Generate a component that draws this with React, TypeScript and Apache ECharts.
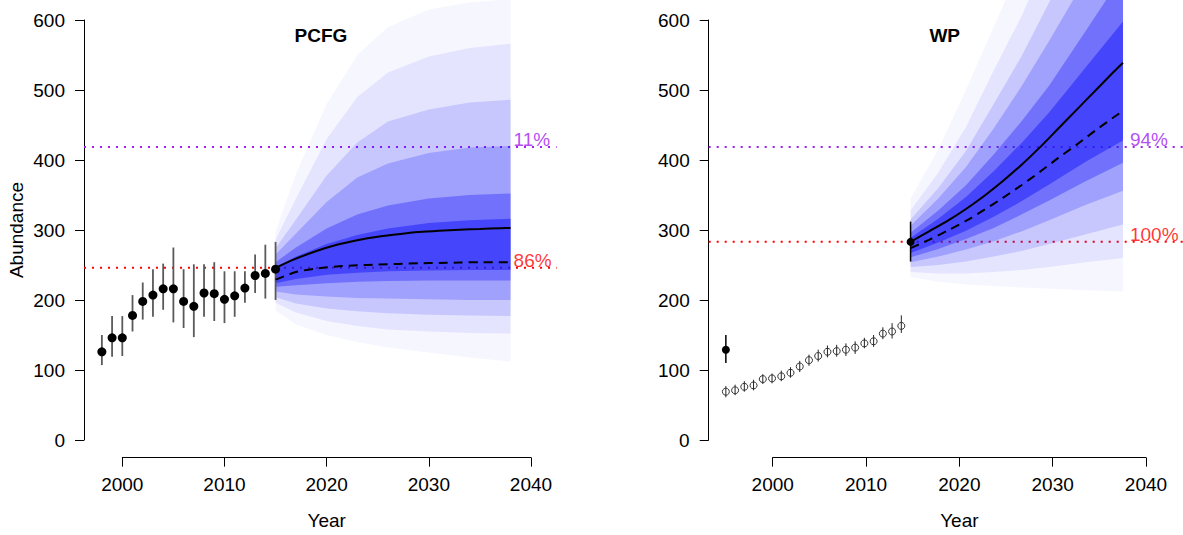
import React, { useEffect, useRef } from "react";
import * as echarts from "echarts";

// ---------------- DATA ----------------
// PCFG observed abundance (estimates with intervals)
const PCFG_YEARS = [1998, 1999, 2000, 2001, 2002, 2003, 2004, 2005, 2006, 2007, 2008, 2009, 2010, 2011, 2012, 2013, 2014, 2015];
const PCFG_ABUND = [126, 146, 146, 178, 198, 207, 216, 216, 198, 191, 210, 209, 201, 206, 217, 235, 238, 244];
const PCFG_LO = [107, 119, 120, 155, 172, 176, 186, 168, 160, 147, 176, 170, 167, 176, 196, 210, 202, 200];
const PCFG_HI = [150, 177, 177, 207, 225, 244, 252, 275, 244, 251, 251, 254, 241, 241, 241, 265, 279, 283];

// PCFG projection: mean / median trajectories
const PCFG_LINE_YEARS = [2015, 2017, 2019, 2021, 2023, 2025, 2027, 2029, 2031, 2033, 2035, 2037, 2038];
const PCFG_MEAN = [246, 259, 270, 279, 285.5, 290.5, 294, 297, 299, 300.5, 301.5, 302.5, 303];
const PCFG_MEDIAN = [229, 240, 245, 248, 249.5, 250.5, 251.5, 252.5, 253, 253.5, 254, 254, 254];
// PCFG projection: quantiles of the simulated trajectories
const PCFG_PROJ_YEARS = [2015, 2017, 2020, 2023, 2026, 2030, 2034, 2038];
const PCFG_Q005 = [185, 165, 150, 140, 132, 125, 118, 112];
const PCFG_Q02 = [196, 182, 170, 163, 158, 155, 153, 152];
const PCFG_Q05 = [204, 195, 188, 184, 181, 179, 178, 177];
const PCFG_Q10 = [212, 208, 205, 203, 202, 201, 200, 200];
const PCFG_Q20 = [219, 221, 224, 226, 227, 228, 228, 228];
const PCFG_Q30 = [224, 230, 236, 239, 241, 242, 243, 243];
const PCFG_Q70 = [246, 262, 280, 293, 302, 310, 314, 316];
const PCFG_Q80 = [254, 275, 302, 322, 335, 345, 350, 352];
const PCFG_Q90 = [265, 295, 340, 375, 395, 410, 418, 420];
const PCFG_Q95 = [274, 315, 378, 425, 455, 472, 482, 486];
const PCFG_Q98 = [286, 345, 430, 490, 525, 548, 560, 566];
const PCFG_Q995 = [298, 380, 480, 550, 590, 615, 625, 630];
const PCFG_THRESHOLDS = [418.6, 246];
const PCFG_PCT = ["11%", "86%"];

// WP index (open symbols) and abundance estimates (filled)
const WP_INDEX_YEARS = [1995, 1996, 1997, 1998, 1999, 2000, 2001, 2002, 2003, 2004, 2005, 2006, 2007, 2008, 2009, 2010, 2011, 2012, 2013, 2014];
const WP_INDEX = [69, 71, 76, 78, 87, 88, 91, 96, 105, 114, 120, 126, 127, 129, 132, 138, 141, 152, 155, 163];
const WP_INDEX_LO = [61, 64, 69, 71, 80, 81, 84, 89, 97, 106, 112, 118, 119, 120, 123, 131, 133, 144, 145, 153];
const WP_INDEX_HI = [77, 79, 84, 86, 94, 95, 99, 104, 113, 122, 129, 135, 136, 138, 141, 146, 150, 161, 167, 178];
const WP_EST_YEARS = [1995, 2015];
const WP_EST = [129, 283];
const WP_EST_LO = [110, 255];
const WP_EST_HI = [150, 312];

// WP projection: mean / median trajectories
const WP_LINE_YEARS = [2015, 2017, 2019, 2021, 2023, 2025, 2027, 2029, 2031, 2033, 2035, 2037, 2038];
const WP_MEAN = [283, 298, 313, 330, 349, 370, 393, 418, 445, 472, 499, 526, 539];
const WP_MEDIAN = [274, 286, 299, 313, 329, 346, 364, 383, 403, 422, 442, 461, 470];
// WP projection: quantiles
const WP_PROJ_YEARS = [2015, 2018, 2021, 2024, 2027, 2030, 2034, 2038];
const WP_Q005 = [233, 226, 222, 220, 218, 216, 214, 212];
const WP_Q02 = [240, 238, 238, 240, 243, 247, 254, 260];
const WP_Q05 = [247, 250, 255, 262, 270, 280, 294, 308];
const WP_Q10 = [254, 262, 272, 284, 298, 314, 336, 356];
const WP_Q20 = [261, 273, 287, 303, 322, 342, 370, 396];
const WP_Q30 = [267, 282, 299, 319, 341, 365, 398, 428];
const WP_Q70 = [289, 316, 347, 384, 424, 468, 533, 598];
const WP_Q80 = [296, 328, 364, 408, 455, 506, 585, 665];
const WP_Q90 = [306, 345, 390, 445, 505, 570, 660, 750];
const WP_Q95 = [315, 360, 413, 480, 548, 625, 730, 830];
const WP_Q98 = [328, 382, 447, 528, 605, 695, 820, 940];
const WP_Q995 = [345, 415, 500, 590, 680, 780, 900, 1020];
const WP_THRESHOLDS = [418.6, 283.3];
const WP_PCT = ["94%", "100%"];

const Y_TICK_MIN = 0;
const Y_TICK_MAX = 600;
const X_TICK_MIN = 2000;
const X_TICK_MAX = 2040;

// ---------------- STYLE / LAYOUT ----------------
const FONT = "'Liberation Sans', Arial, Helvetica, sans-serif";
const PURPLE = "#A020F0";
const RED = "#FF0000";
const FAN_RGB = "25,25,250";
const BAND_ALPHA = [0.04, 0.08, 0.14, 0.22, 0.35, 0.5];

const PX_PER_UNIT = 0.7;
const Y0_PX = 440;
const Y_MIN = -25;
const Y_MAX = 628;
const X_AXIS_PX = 457.7;

const PANELS = [
  { axisX: 84, x2000: 122.3, x2040: 531, xMin: 1996.25, xMax: 2042.5 },
  { axisX: 708.7, x2000: 772.7, x2040: 1146, xMin: 1993.14, xMax: 2044.5 },
];

function dataGrid(p: any) {
  const ppy = (p.x2040 - p.x2000) / 40;
  return {
    left: p.x2000 - (2000 - p.xMin) * ppy,
    width: (p.xMax - p.xMin) * ppy,
    top: Y0_PX - Y_MAX * PX_PER_UNIT,
    height: (Y_MAX - Y_MIN) * PX_PER_UNIT,
  };
}

function fanSeries(axisIdx: number, years: number[], bands: number[][][]) {
  return {
    type: "custom",
    xAxisIndex: axisIdx,
    yAxisIndex: axisIdx,
    clip: false,
    silent: true,
    z: 2,
    data: bands.map((b, i) => [years[0], b[0][0], i]),
    encode: { x: 0, y: 1 },
    renderItem: (params: any, api: any) => {
      const b = bands[params.dataIndex];
      const top = years.map((yr, k) => api.coord([yr, b[1][k]]));
      const bot = years.map((yr, k) => api.coord([yr, b[0][k]])).reverse();
      return {
        type: "polygon",
        shape: { points: top.concat(bot) },
        style: { fill: `rgba(${FAN_RGB},${BAND_ALPHA[params.dataIndex]})`, stroke: null },
      };
    },
  };
}

function errSeries(axisIdx: number, years: number[], lo: number[], hi: number[], color: string, width: number, z: number) {
  return {
    type: "custom",
    xAxisIndex: axisIdx,
    yAxisIndex: axisIdx,
    clip: false,
    silent: true,
    z,
    data: years.map((y, i) => [y, lo[i], hi[i]]),
    encode: { x: 0, y: [1, 2] },
    renderItem: (params: any, api: any) => {
      const a = api.coord([api.value(0), api.value(1)]);
      const b = api.coord([api.value(0), api.value(2)]);
      return {
        type: "line",
        shape: { x1: a[0], y1: a[1], x2: b[0], y2: b[1] },
        style: { stroke: color, lineWidth: width },
      };
    },
  };
}

function projLine(axisIdx: number, years: number[], vals: number[], dashed: boolean) {
  return {
    type: "line",
    xAxisIndex: axisIdx,
    yAxisIndex: axisIdx,
    data: years.map((y, i) => [y, vals[i]]),
    smooth: 0.25,
    showSymbol: false,
    symbol: "none",
    clip: false,
    silent: true,
    z: 5,
    lineStyle: { color: "#000", width: 2, type: dashed ? [9, 6] : "solid" },
  };
}

function refLine(axisIdx: number, p: any, v: number, color: string) {
  return {
    type: "line",
    xAxisIndex: axisIdx,
    yAxisIndex: axisIdx,
    data: [[p.xMin, v], [p.xMax, v]],
    symbol: "none",
    silent: true,
    clip: false,
    z: 1,
    lineStyle: { color, width: 2, type: [2, 6] },
  };
}

function pctLabel(axisIdx: number, x: number, v: number, text: string, color: string, dist: number) {
  return {
    type: "scatter",
    xAxisIndex: axisIdx,
    yAxisIndex: axisIdx,
    data: [[x, v]],
    symbolSize: 0,
    silent: true,
    clip: false,
    z: 6,
    label: {
      show: true,
      position: "right",
      distance: dist,
      offset: [0, -7],
      formatter: text,
      color,
      fontSize: 19,
      fontFamily: FONT,
    },
  };
}

function buildOption() {
  const grids: any[] = [];
  const xAxes: any[] = [];
  const yAxes: any[] = [];
  PANELS.forEach((p, pi) => {
    grids.push(dataGrid(p));
    grids.push({ left: p.x2000, width: p.x2040 - p.x2000, top: 20, height: X_AXIS_PX - 20 });
    grids.push({ left: p.axisX, width: 100, top: 20, height: 420 });
    const base = pi * 3;
    xAxes.push({ type: "value", gridIndex: base, min: p.xMin, max: p.xMax, show: false });
    yAxes.push({ type: "value", gridIndex: base, min: Y_MIN, max: Y_MAX, show: false });
    xAxes.push({
      type: "value",
      gridIndex: base + 1,
      min: X_TICK_MIN,
      max: X_TICK_MAX,
      interval: 10,
      position: "bottom",
      axisLine: { show: true, onZero: false, lineStyle: { color: "#000", width: 1 } },
      axisTick: { show: true, length: 9, lineStyle: { color: "#000", width: 1 } },
      splitLine: { show: false },
      axisLabel: { show: true, fontSize: 19, color: "#000", margin: 17, fontFamily: FONT, formatter: (v: number) => String(v) },
      name: "Year",
      nameLocation: "middle",
      nameGap: 53,
      nameTextStyle: { fontSize: 19, color: "#000", fontFamily: FONT },
    });
    yAxes.push({ type: "value", gridIndex: base + 1, min: 0, max: 1, show: false });
    xAxes.push({ type: "value", gridIndex: base + 2, min: 0, max: 1, show: false });
    yAxes.push({
      type: "value",
      gridIndex: base + 2,
      min: Y_TICK_MIN,
      max: Y_TICK_MAX,
      interval: 100,
      position: "left",
      axisLine: { show: true, onZero: false, lineStyle: { color: "#000", width: 1 } },
      axisTick: { show: true, length: 9, lineStyle: { color: "#000", width: 1 } },
      splitLine: { show: false },
      axisLabel: { show: true, fontSize: 19, color: "#000", margin: 19, fontFamily: FONT, formatter: (v: number) => String(v) },
      name: pi === 0 ? "Abundance" : "",
      nameLocation: "middle",
      nameGap: 58,
      nameRotate: 90,
      nameTextStyle: { fontSize: 19, color: "#000", fontFamily: FONT },
    });
  });

  const L = 0;
  const R = 3;
  const series: any[] = [
    // PCFG
    refLine(L, PANELS[0], PCFG_THRESHOLDS[0], PURPLE),
    refLine(L, PANELS[0], PCFG_THRESHOLDS[1], RED),
    fanSeries(L, PCFG_PROJ_YEARS, [
      [PCFG_Q005, PCFG_Q995],
      [PCFG_Q02, PCFG_Q98],
      [PCFG_Q05, PCFG_Q95],
      [PCFG_Q10, PCFG_Q90],
      [PCFG_Q20, PCFG_Q80],
      [PCFG_Q30, PCFG_Q70],
    ]),
    errSeries(L, PCFG_YEARS, PCFG_LO, PCFG_HI, "#5a5a5a", 1.8, 3),
    {
      type: "scatter",
      xAxisIndex: L,
      yAxisIndex: L,
      data: PCFG_YEARS.map((y, i) => [y, PCFG_ABUND[i]]),
      symbol: "circle",
      symbolSize: 9,
      itemStyle: { color: "#000", opacity: 1 },
      silent: true,
      clip: false,
      z: 4,
    },
    projLine(L, PCFG_LINE_YEARS, PCFG_MEAN, false),
    projLine(L, PCFG_LINE_YEARS, PCFG_MEDIAN, true),
    pctLabel(L, 2038, PCFG_THRESHOLDS[0], PCFG_PCT[0], PURPLE, 3),
    pctLabel(L, 2038, PCFG_THRESHOLDS[1], PCFG_PCT[1], RED, 3),
    // WP
    refLine(R, PANELS[1], WP_THRESHOLDS[0], PURPLE),
    refLine(R, PANELS[1], WP_THRESHOLDS[1], RED),
    fanSeries(R, WP_PROJ_YEARS, [
      [WP_Q005, WP_Q995],
      [WP_Q02, WP_Q98],
      [WP_Q05, WP_Q95],
      [WP_Q10, WP_Q90],
      [WP_Q20, WP_Q80],
      [WP_Q30, WP_Q70],
    ]),
    errSeries(R, WP_INDEX_YEARS, WP_INDEX_LO, WP_INDEX_HI, "#222", 1, 3),
    {
      type: "scatter",
      xAxisIndex: R,
      yAxisIndex: R,
      data: WP_INDEX_YEARS.map((y, i) => [y, WP_INDEX[i]]),
      symbol: "circle",
      symbolSize: 7,
      itemStyle: { color: "rgba(0,0,0,0)", borderColor: "#333", borderWidth: 1, opacity: 1 },
      silent: true,
      clip: false,
      z: 4,
    },
    errSeries(R, WP_EST_YEARS, WP_EST_LO, WP_EST_HI, "#000", 1.5, 3),
    {
      type: "scatter",
      xAxisIndex: R,
      yAxisIndex: R,
      data: WP_EST_YEARS.map((y, i) => [y, WP_EST[i]]),
      symbol: "circle",
      symbolSize: 8,
      itemStyle: { color: "#000", opacity: 1 },
      silent: true,
      clip: false,
      z: 4,
    },
    projLine(R, WP_LINE_YEARS, WP_MEAN, false),
    projLine(R, WP_LINE_YEARS, WP_MEDIAN, true),
    pctLabel(R, 2038, WP_THRESHOLDS[0], WP_PCT[0], PURPLE, 7),
    pctLabel(R, 2038, WP_THRESHOLDS[1], WP_PCT[1], RED, 7),
  ];

  return {
    animation: false,
    backgroundColor: "#fff",
    grid: grids,
    xAxis: xAxes,
    yAxis: yAxes,
    series,
    graphic: [
      {
        type: "text",
        x: 321,
        y: 35,
        z: 10,
        style: { text: "PCFG", font: `bold 19px ${FONT}`, fill: "#000", align: "center", verticalAlign: "middle", textAlign: "center", textVerticalAlign: "middle" },
      },
      {
        type: "text",
        x: 944.7,
        y: 35,
        z: 10,
        style: { text: "WP", font: `bold 19px ${FONT}`, fill: "#000", align: "center", verticalAlign: "middle", textAlign: "center", textVerticalAlign: "middle" },
      },
    ],
  };
}

export default function App() {
  const ref = useRef<HTMLDivElement>(null);
  useEffect(() => {
    if (!ref.current) return;
    const chart = echarts.init(ref.current, undefined, { renderer: "svg" });
    chart.setOption(buildOption() as any);
    return () => chart.dispose();
  }, []);
  return (
    <div
      ref={ref}
      style={{ position: "fixed", left: 0, top: 0, width: 1183, height: 535, background: "#fff" }}
    />
  );
}
